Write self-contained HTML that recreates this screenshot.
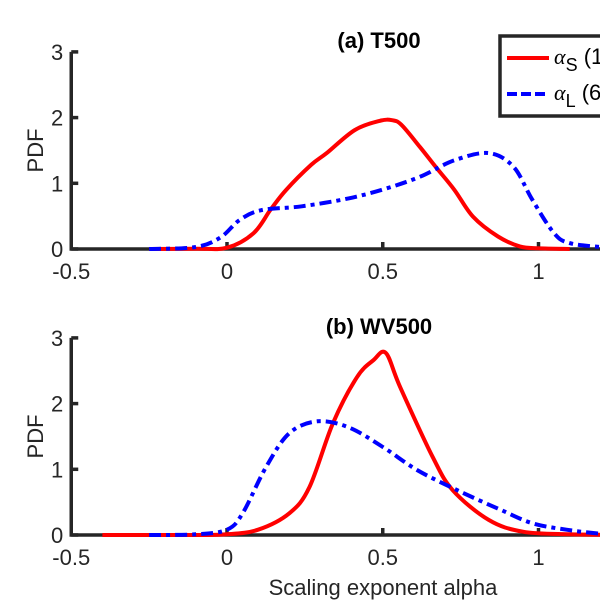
<!DOCTYPE html>
<html><head><meta charset="utf-8"><style>
body{margin:0;background:#fff;width:600px;height:600px;overflow:hidden}
svg{font-family:"Liberation Sans",sans-serif}
</style></head><body>
<svg id="chart" width="600" height="600"></svg>
<script>
const xTicks=[-0.5,0,0.5,1];
const xTickLabels=["-0.5","0","0.5","1"];
const yTicks=[0,1,2,3];
const aRedX=[-0.25,-0.1,0,0.085,0.14,0.19,0.27,0.32,0.41,0.49,0.53,0.56,0.62,0.67,0.73,0.79,0.87,0.94,1.0,1.1];
const aRedY=[0,0.005,0.02,0.24,0.6,0.9,1.28,1.46,1.81,1.95,1.96,1.89,1.55,1.25,0.9,0.49,0.19,0.04,0.01,0];
const aBlueX=[-0.25,-0.1,-0.02,0.04,0.11,0.24,0.39,0.51,0.62,0.73,0.84,0.92,0.98,1.05,1.1,1.2,1.3];
const aBlueY=[0,0.03,0.18,0.44,0.59,0.65,0.77,0.92,1.1,1.35,1.46,1.25,0.75,0.24,0.09,0.03,0];
const bRedX=[-0.4,-0.1,0,0.1,0.2,0.265,0.34,0.417,0.47,0.51,0.556,0.66,0.725,0.84,0.95,1.1,1.3];
const bRedY=[0,0,0.01,0.08,0.33,0.73,1.7,2.4,2.66,2.77,2.25,1.19,0.68,0.23,0.05,0.01,0];
const bBlueX=[-0.25,-0.1,0,0.05,0.125,0.2,0.29,0.39,0.5,0.61,0.74,0.88,0.98,1.09,1.2,1.3];
const bBlueY=[0,0.01,0.08,0.33,1.03,1.55,1.73,1.64,1.34,0.99,0.68,0.38,0.18,0.08,0.02,0];
const NS="http://www.w3.org/2000/svg";
const svg=document.getElementById('chart');
function mk(t,a,p){const e=document.createElementNS(NS,t);for(const k in a)e.setAttribute(k,a[k]);(p||svg).appendChild(e);return e;}
const X=v=>227+(v)*311.5;
function smooth(P){
  let d=`M${P[0][0].toFixed(1)},${P[0][1].toFixed(1)}`;
  for(let i=0;i<P.length-1;i++){
    const p0=P[i-1]||P[i],p1=P[i],p2=P[i+1],p3=P[i+2]||p2;
    const c1=[p1[0]+(p2[0]-p0[0])/6,p1[1]+(p2[1]-p0[1])/6];
    const c2=[p2[0]-(p3[0]-p1[0])/6,p2[1]-(p3[1]-p1[1])/6];
    d+=`C${c1[0].toFixed(1)},${c1[1].toFixed(1)} ${c2[0].toFixed(1)},${c2[1].toFixed(1)} ${p2[0].toFixed(1)},${p2[1].toFixed(1)}`;
  }
  return d;
}
function panel(y0,title,rx,ry,bx,by,key){
  const Y=v=>y0-v*65.7;
  const g=mk('g',{});
  
  
  const t=mk('text',{x:379,y:y0-201,'text-anchor':'middle','font-size':22,'font-weight':'bold'},g);t.textContent=title;
  
  
  const yl=mk('text',{x:0,y:0,'font-size':22,'text-anchor':'middle',transform:`translate(43,${Y(1.5)}) rotate(-90)`,fill:'#262626'},g);yl.textContent='PDF';
  
  
  const ax=mk('path',{d:`M${X(-0.5)},${Y(3)}V${Y(0)}H600`,stroke:'#262626','stroke-width':3.5,fill:'none'},g);
  
  
  yTicks.forEach(v=>{mk('line',{x1:X(-0.5),x2:X(-0.5)+7,y1:Y(v),y2:Y(v),stroke:'#262626','stroke-width':3.5},g);
    const l=mk('text',{x:X(-0.5)-8,y:Y(v)+8,'text-anchor':'end','font-size':22,fill:'#262626'},g);l.textContent=v;
    
    });
  xTicks.forEach((v,i)=>{mk('line',{x1:X(v),x2:X(v),y1:Y(0),y2:Y(0)-7,stroke:'#262626','stroke-width':3.5},g);
    const l=mk('text',{x:X(v),y:Y(0)+30,'text-anchor':'middle','font-size':22,fill:'#262626'},g);l.textContent=xTickLabels[i];
    
    });
  const pts=(xs,ys)=>xs.map((x,i)=>[X(x),Y(ys[i])]);
  const r=mk('path',{d:smooth(pts(rx,ry)),fill:'none',stroke:'#ff0000','stroke-width':4,'stroke-linejoin':'round'},g);
  
  
  const b=mk('path',{d:smooth(pts(bx,by)),fill:'none',stroke:'#0000ff','stroke-width':4,'stroke-dasharray':'12,5,4,5','stroke-linejoin':'round'},g);
  
  
}
panel(249,'(a) T500',aRedX,aRedY,aBlueX,aBlueY,'a');
panel(535,'(b) WV500',bRedX,bRedY,bBlueX,bBlueY,'b');
const xl=mk('text',{x:383,y:595,'text-anchor':'middle','font-size':22,fill:'#262626'});xl.textContent='Scaling exponent alpha';


const lg=mk('g',{});


mk('rect',{x:500,y:36,width:110,height:80,fill:'#fff',stroke:'#262626','stroke-width':3.5},lg);
mk('line',{x1:507,x2:549,y1:58,y2:58,stroke:'#ff0000','stroke-width':4},lg);
mk('line',{x1:507,x2:549,y1:94,y2:94,stroke:'#0000ff','stroke-width':4,'stroke-dasharray':'10,4'},lg);
const t1=mk('text',{x:554,y:64,'font-size':22},lg);t1.innerHTML='<tspan font-style="italic" font-family="Liberation Serif">α</tspan><tspan dy="7" font-size="18">S</tspan><tspan dy="-7"> (1</tspan>';


const t2=mk('text',{x:554,y:100,'font-size':22},lg);t2.innerHTML='<tspan font-style="italic" font-family="Liberation Serif">α</tspan><tspan dy="7" font-size="18">L</tspan><tspan dy="-7"> (6</tspan>';


</script>
</body></html>
